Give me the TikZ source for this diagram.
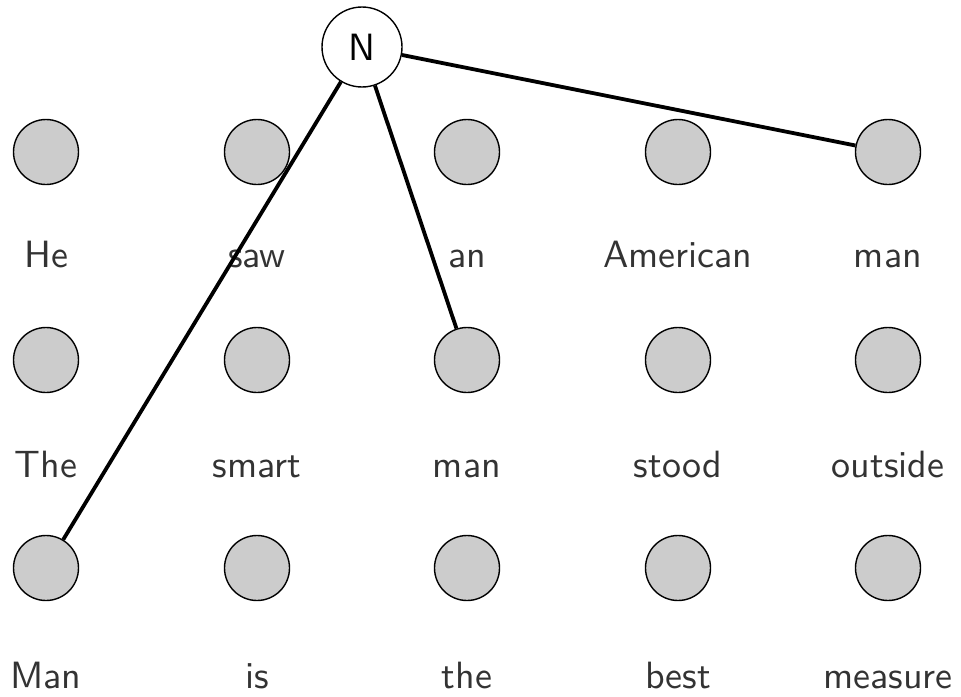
\documentclass[tikz,border=0pt]{standalone}
\usepackage{fontspec}
\setsansfont{lmsans10-regular}[Extension=.otf]
\begin{document}
\begin{tikzpicture}[x=1pt,y=-1pt,
  word/.style={circle,draw=black,line width=1.4pt,fill=black!20,minimum size=65pt,inner sep=0pt},
  lbl/.style={anchor=base,font=\sffamily\fontsize{38}{44}\selectfont,text=black!80,inner sep=0pt},
  root/.style={circle,draw=black,line width=1.4pt,fill=white,minimum size=80pt,inner sep=0pt,font=\sffamily\fontsize{38}{44}\selectfont},
  link/.style={line width=3.8pt}]
\useasboundingbox (0,0) rectangle (961,696);
\def\cols{{46,257,467,678,888}}
\foreach \w [count=\i from 0] in {He,saw,an,American,man}{
  \node[word] (a\i) at ({\cols[\i]},152) {};
  \node[lbl] (ta\i) at ({\cols[\i]},267) {\w};
}
\foreach \w [count=\i from 0] in {The,smart,man,stood,outside}{
  \node[word] (b\i) at ({\cols[\i]},360) {};
  \node[lbl] (tb\i) at ({\cols[\i]},477) {\w};
}
\foreach \w [count=\i from 0] in {Man,is,the,best,measure}{
  \node[word] (c\i) at ({\cols[\i]},568) {};
  \node[lbl] (tc\i) at ({\cols[\i]},688) {\w};
}
\node[root] (N) at (362,47) {N};
\draw[link] (N) -- (a4);
\draw[link] (N) -- (b2);
\draw[link] (N) -- (c0);
\end{tikzpicture}
\end{document}
